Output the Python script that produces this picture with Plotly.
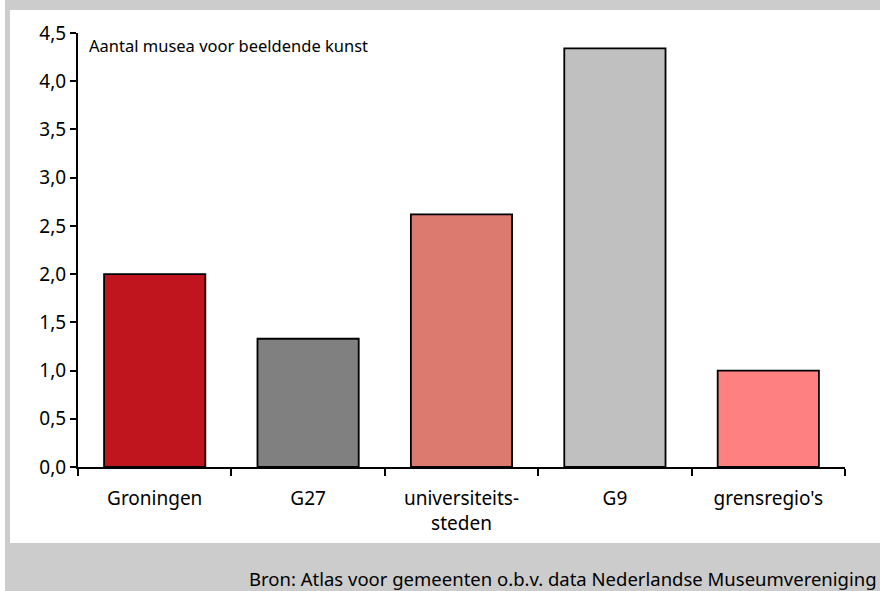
import plotly.graph_objects as go

categories = ["Groningen", "G27", "universiteits-<br>steden", "G9", "grensregio's"]
values = [2.0, 1.33, 2.62, 4.34, 1.0]
colors = ["#C0141F", "#808080", "#DC7A70", "#C0C0C0", "#FF8080"]
y_ticks = [0, 0.5, 1.0, 1.5, 2.0, 2.5, 3.0, 3.5, 4.0, 4.5]

W, H = 880, 591
L, R, T, B = 78, 35, 33, 124
pw, ph = W - L - R, H - T - B

def px(x):
    return (x - L) / pw

def py(y):
    return (H - B - y) / ph

FONT = "Noto Sans"

fig = go.Figure()
fig.add_trace(go.Bar(
    x=categories, y=values,
    marker=dict(color=colors, line=dict(color="black", width=1.8)),
    width=0.66,
))

shapes = [
    dict(type="rect", xref="paper", yref="paper", x0=px(10), x1=px(880), y0=py(543), y1=py(10),
         fillcolor="white", line_width=0, layer="below"),
    dict(type="rect", xref="paper", yref="paper", x0=px(0), x1=px(5), y0=py(591), y1=py(0),
         fillcolor="white", line_width=0, layer="below"),
]

fig.update_layout(
    width=W, height=H,
    margin=dict(l=L, r=R, t=T, b=B),
    paper_bgcolor="#CCCCCC",
    plot_bgcolor="white",
    separators=", ",
    showlegend=False,
    shapes=shapes,
    font=dict(family=FONT, color="black", size=19),
    xaxis=dict(
        showline=True, linecolor="black", linewidth=2,
        ticks="outside", tickson="boundaries", ticklen=7, tickwidth=1.5, tickcolor="black",
        tickfont=dict(size=19), ticklabelstandoff=13,
        showgrid=False, zeroline=False,
    ),
    yaxis=dict(
        range=[0, 4.5], tickvals=y_ticks, tickformat=".1f",
        showline=True, linecolor="black", linewidth=2,
        ticks="outside", ticklen=6, tickwidth=1.5, tickcolor="black",
        tickfont=dict(size=19),
        showgrid=False, zeroline=False,
    ),
    annotations=[
        dict(text="Aantal musea voor beeldende kunst", xref="paper", yref="paper",
             x=px(87), y=py(45), xanchor="left", yanchor="middle", showarrow=False,
             font=dict(size=16.5, family=FONT)),
        dict(text="Bron: Atlas voor gemeenten o.b.v. data Nederlandse Museumvereniging",
             xref="paper", yref="paper", x=px(879), y=py(578), xanchor="right", yanchor="middle",
             showarrow=False, font=dict(size=18.5, family=FONT)),
    ],
)

fig.write_html("out.html", config={"displayModeBar": False},
               post_script="document.body.style.margin='0';")
